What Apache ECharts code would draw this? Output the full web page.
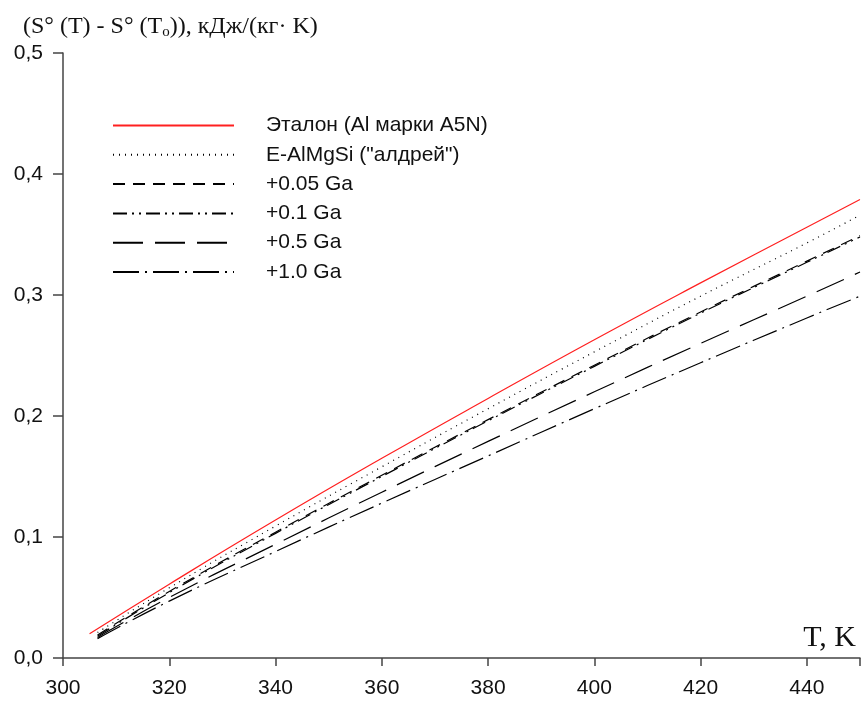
<!DOCTYPE html>
<html>
<head>
<meta charset="utf-8">
<script src="https://cdn.jsdelivr.net/npm/echarts@6/dist/echarts.min.js"></script>
<style>html,body{margin:0;padding:0;background:#fff}#c{width:863px;height:704px}</style>
</head>
<body>
<div id="c"></div>
<script>
var temps = [305, 320, 340, 360, 380, 400, 420, 440, 450];
var tempsB = [306.5, 320, 340, 360, 380, 400, 420, 440, 450];
var etalon  = [0.020, 0.061, 0.114, 0.165, 0.2145, 0.263, 0.310, 0.356, 0.379];
var aldrey  = [0.021, 0.058, 0.109, 0.158, 0.206, 0.253, 0.299, 0.343, 0.366];
var ga005   = [0.019, 0.055, 0.104, 0.151, 0.197, 0.242, 0.286, 0.328, 0.349];
var ga01    = [0.018, 0.054, 0.103, 0.150, 0.196, 0.241, 0.285, 0.327, 0.348];
var ga05    = [0.017, 0.050, 0.094, 0.137, 0.179, 0.220, 0.260, 0.299, 0.319];
var ga10    = [0.016, 0.047, 0.088, 0.128, 0.167, 0.206, 0.244, 0.281, 0.299];
var names = ['Эталон (Al марки A5N)', 'E-AlMgSi ("алдрей")', '+0.05 Ga', '+0.1 Ga', '+0.5 Ga', '+1.0 Ga'];
var xTicks = [300, 320, 340, 360, 380, 400, 420, 440];
var yTicks = [0, 0.1, 0.2, 0.3, 0.4, 0.5];

function pairs(xs, ys) { return xs.map(function (x, i) { return [x, ys[i]]; }); }

var styles = [
  {color: '#ff2020', type: 'solid'},
  {color: '#000', type: [1, 5]},
  {color: '#000', type: [12, 8]},
  {color: '#000', type: [14, 5, 2, 5, 2, 5]},
  {color: '#000', type: [30, 12]},
  {color: '#000', type: [26, 6, 2, 6]}
];
var dataSets = [pairs(temps, etalon), pairs(tempsB, aldrey), pairs(tempsB, ga005), pairs(tempsB, ga01), pairs(tempsB, ga05), pairs(tempsB, ga10)];

var chart = echarts.init(document.getElementById('c'), null, {renderer: 'canvas'});
chart.setOption({
  animation: false,
  backgroundColor: '#fff',
  title: [
    {
      text: '(S° (T) - S° (T{sub|o})), кДж/(кг· K)',
      left: 18, top: 9,
      textStyle: {fontFamily: 'Liberation Serif', fontSize: 24, fontWeight: 'normal', color: '#111',
        rich: {sub: {fontFamily: 'Liberation Serif', fontSize: 15, verticalAlign: 'bottom', padding: [11, 0, 0, 0], color: '#111'}}}
    },
    {
      text: 'T, K',
      right: 2, top: 618,
      textStyle: {fontFamily: 'Liberation Serif', fontSize: 30, fontWeight: 'normal', color: '#111'}
    }
  ],
  grid: {left: 63, right: 0, top: 53, bottom: 46, containLabel: false},
  legend: {
    orient: 'vertical', left: 112, top: 115, padding: 0,
    itemWidth: 121, itemHeight: 20, itemGap: 8.3,
    itemStyle: {opacity: 0, borderWidth: 0},
    textStyle: {fontFamily: 'Liberation Sans', fontSize: 21, color: '#111', padding: [0, 0, 0, 27], lineHeight: 19},
    data: names
  },
  xAxis: {
    type: 'value', min: 300, max: 450, interval: 20,
    axisLine: {lineStyle: {color: '#444', width: 1.5}},
    axisTick: {show: true, length: 8, lineStyle: {color: '#444', width: 1.5}},
    axisLabel: {fontFamily: 'Liberation Sans', fontSize: 21, color: '#111', margin: 20,
      formatter: function (v) { return xTicks.indexOf(v) >= 0 ? String(v) : ''; }},
    splitLine: {show: false}
  },
  yAxis: {
    type: 'value', min: 0, max: 0.5, interval: 0.1,
    axisLine: {show: true, lineStyle: {color: '#444', width: 1.5}},
    axisTick: {show: true, length: 10, lineStyle: {color: '#444', width: 1.5}},
    axisLabel: {fontFamily: 'Liberation Sans', fontSize: 21, color: '#111', margin: 20,
      formatter: function (v) { return v.toFixed(1).replace('.', ','); }},
    splitLine: {show: false}
  },
  series: names.map(function (n, i) {
    return {
      name: n, type: 'line', data: dataSets[i], symbol: 'none', smooth: true,
      lineStyle: {color: styles[i].color, width: 1.2, type: styles[i].type},
      itemStyle: {color: styles[i].color}
    };
  })
});
</script>
</body>
</html>
